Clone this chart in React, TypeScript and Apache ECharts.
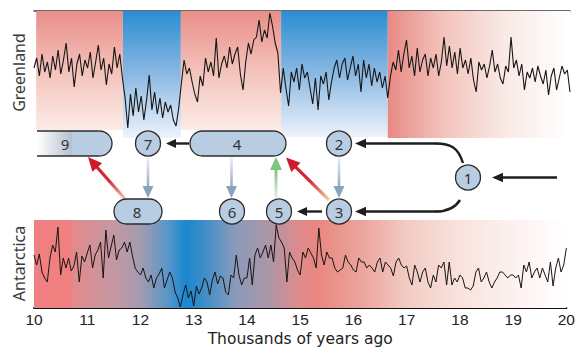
import { useEffect, useRef } from "react";
import * as echarts from "echarts";

// ---- data ----
const ageTicks = [10, 11, 12, 13, 14, 15, 16, 17, 18, 19, 20];
const innerTicks = [11, 12, 13, 14, 15, 16, 17, 18, 19];
const sampleStart = 10.0; // thousands of years ago
const sampleStep = 0.05;

// Greenland record (relative units, higher = warmer)
const greenlandValues = [
  70, 80, 62, 84, 66, 76, 60, 82, 68, 88, 64, 78, 95, 66, 80, 51, 74, 84, 62, 78,
  70, 86, 60, 76, 93, 68, 80, 53, 74, 64, 91, 70, 84, 60,
  40, 10, 44, 22, 50, 26, 42, 18, 38, 63, 28, 46, 24, 40, 20, 36, 26, 33, 18, 12, 30, 55,
  78, 64, 70, 56, 44, 36, 62, 52, 80, 66, 76, 62, 100, 60, 74, 82, 70, 91, 74, 84,
  91, 64, 48, 76, 95, 84, 98, 101, 118, 96, 108, 100, 125, 112, 95, 85, 45,
  70, 50, 32, 66, 56, 70, 48, 74, 60, 66, 50, 34, 60, 28, 62, 54, 66, 38, 56, 70,
  78, 60, 74, 80, 58, 70, 82, 62, 74, 46, 78, 60, 74, 52, 70, 56, 66, 50, 62, 40,
  62, 76, 68, 88, 66, 84, 98, 70, 82, 62, 90, 66, 78, 84, 62, 80, 70, 84, 62, 76,
  101, 72, 92, 70, 86, 64, 90, 70, 78, 64, 80, 58, 46, 76, 68, 74, 60, 72, 88, 66,
  74, 60, 54, 72, 66, 101, 70, 78, 62, 74, 48, 66, 60, 70, 56, 72, 62, 54, 68, 43,
  62, 70, 48, 60, 72, 64, 68, 46,
];

// Antarctica record (relative units, higher = warmer)
const antarcticaValues = [
  53, 43, 54, 36, 30, 26, 50, 63, 56, 81, 33, 50, 40, 50, 37, 42, 56, 26, 52, 46, 55,
  63, 40, 53, 58, 66, 30, 78, 50, 62, 73, 48, 58, 60, 66, 56, 66, 52, 40, 36, 33,
  40, 30, 26, 33, 20, 30, 34, 40, 20, 28, 36, 30, 16, 10, 1, 14, 23, 10, 17, 2,
  22, 14, 20, 30,
  26, 13, 28, 36, 24, 32, 30, 16, 13, 33, 30, 53, 33, 23, 30, 30, 50, 23, 53, 60,
  50, 56, 63, 50, 63, 46, 83, 70, 66, 60, 26, 56, 50, 46, 38, 33, 56, 50, 60, 55,
  50, 40, 80, 53, 43, 56, 50, 50, 40, 36, 38, 40, 53, 46, 43, 38, 36, 50, 46, 46,
  40, 43, 40, 36, 46, 50, 36,
  46, 43, 40, 32, 46, 50, 43, 40, 42, 30, 23, 43, 36, 26, 36, 40, 26, 20, 33, 26,
  43, 40, 46, 23, 46, 23, 30, 26, 33, 30, 20, 20, 18, 22, 36, 40, 26, 30, 36, 26,
  20, 26, 30, 36, 36, 33, 30, 33, 33, 30, 33, 20, 43, 36, 46, 30, 36, 40, 30, 40,
  33, 26, 46, 22, 40, 50, 36, 43, 60,
];

// Greenland climate phases (thousands of years ago)
const phaseFrom = [10.04, 11.66, 12.74, 14.61, 16.6];
const phaseTo = [11.66, 12.74, 14.61, 16.6, 20];
const phaseKind = ["warm", "cold", "warm", "cold", "fade"];
const phaseFloor = [8, 0, 8, 1, 0];

const FONT = "Noto Sans";
const AXIS_FONT = "Liberation Sans";
const NAME_FONT = "DejaVu Sans";

function toSeries(values: number[]) {
  return values.map((v, i) => [+(sampleStart + i * sampleStep).toFixed(2), v]);
}

function arrow(
  x1: number, y1: number, x2: number, y2: number,
  shaft: any, head: string, width: number, len: number, half: number
) {
  const dx = x2 - x1, dy = y2 - y1;
  const L = Math.hypot(dx, dy);
  const ux = dx / L, uy = dy / L;
  const bx = x2 - ux * len, by = y2 - uy * len;
  const nx = -uy, ny = ux;
  return [
    { type: "line", z: 20, shape: { x1, y1, x2: bx + ux, y2: by + uy }, style: { stroke: shaft, lineWidth: width } },
    {
      type: "polygon", z: 21,
      shape: { points: [[x2, y2], [bx + nx * half, by + ny * half], [bx - nx * half, by - ny * half]] },
      style: { fill: head },
    },
  ];
}

const G = (x1: number, y1: number, x2: number, y2: number, stops: [number, string][]) =>
  new echarts.graphic.LinearGradient(x1, y1, x2, y2, stops.map(([offset, color]) => ({ offset, color })), true);

export default function App() {
  const ref = useRef<HTMLDivElement>(null);
  useEffect(() => {
    document.body.style.margin = "0";
    const chart = echarts.init(ref.current!, null, { renderer: "svg" });

    const warm = new echarts.graphic.LinearGradient(0, 0, 0, 1, [
      { offset: 0, color: "#e98e88" },
      { offset: 0.5, color: "#f3c2ba" },
      { offset: 1, color: "#fcebe7" },
    ]);
    const cold = new echarts.graphic.LinearGradient(0, 0, 0, 1, [
      { offset: 0, color: "#2a8dd2" },
      { offset: 0.5, color: "#8bb9e3" },
      { offset: 1, color: "#eef3fb" },
    ]);
    const fade = new echarts.graphic.LinearGradient(0, 0, 1, 0, [
      { offset: 0, color: "#e88984" },
      { offset: 0.3, color: "#f2c3bb" },
      { offset: 0.65, color: "#faeae6" },
      { offset: 1, color: "#ffffff" },
    ]);
    const fills: any = { warm, cold, fade };

    const antBg = new echarts.graphic.LinearGradient(0, 0, 1, 0, [
      { offset: 0, color: "#f17f82" },
      { offset: 0.07, color: "#f0807f" },
      { offset: 0.073, color: "#e28a8c" },
      { offset: 0.15, color: "#c498a2" },
      { offset: 0.2, color: "#a39bb0" },
      { offset: 0.25, color: "#5b96c8" },
      { offset: 0.285, color: "#1a88cf" },
      { offset: 0.32, color: "#3f8dc6" },
      { offset: 0.38, color: "#8c9bb9" },
      { offset: 0.44, color: "#ab96a8" },
      { offset: 0.5, color: "#df8b8b" },
      { offset: 0.53, color: "#e8877f" },
      { offset: 0.62, color: "#eba69e" },
      { offset: 0.7, color: "#f2cbc3" },
      { offset: 0.8, color: "#f9e2dd" },
      { offset: 0.92, color: "#fdf4f2" },
      { offset: 1, color: "#ffffff" },
    ]);

    const nodeFill = "#b9cde2";
    const nodeStroke = "#2b2b2b";
    const circle = (cx: number, cy: number, label: string) => [
      { type: "circle", z: 30, shape: { cx, cy, r: 12.5 }, style: { fill: nodeFill, stroke: nodeStroke, lineWidth: 1.3 } },
      { type: "text", z: 31, x: cx, y: cy + 0.5, style: { text: label, fontSize: 15, fontFamily: FONT, fill: "#333", align: "center", verticalAlign: "middle" } },
    ];
    const pill = (x: number, y: number, w: number, label: string, tx: number) => [
      { type: "rect", z: 30, shape: { x, y, width: w, height: 25, r: 12.5 }, style: { fill: nodeFill, stroke: nodeStroke, lineWidth: 1.3 } },
      { type: "text", z: 31, x: tx, y: y + 13, style: { text: label, fontSize: 15, fontFamily: FONT, fill: "#333", align: "center", verticalAlign: "middle" } },
    ];

    const black = "#1e1e1e";
    const grayShaft = (x: number, y1: number, y2: number) => G(x, y1, x, y2, [[0, "#eceff4"], [1, "#8aa3bd"]]);

    const graphics: any[] = [
      // node 9 (faded pill)
      {
        type: "rect", z: 30, shape: { x: 37, y: 131, width: 75, height: 25, r: [0, 12.5, 12.5, 0] },
        style: { fill: G(37, 0, 112, 0, [[0, "#ffffff"], [0.46, "#b4c1ce"], [0.47, nodeFill], [1, nodeFill]]) },
      },
      { type: "line", z: 31, shape: { x1: 37, y1: 131, x2: 99.5, y2: 131 }, style: { stroke: nodeStroke, lineWidth: 1.3 } },
      { type: "line", z: 31, shape: { x1: 37, y1: 156, x2: 99.5, y2: 156 }, style: { stroke: nodeStroke, lineWidth: 1.3 } },
      { type: "arc", z: 31, shape: { cx: 99.5, cy: 143.5, r: 12.5, startAngle: -Math.PI / 2, endAngle: Math.PI / 2, clockwise: true }, style: { stroke: nodeStroke, lineWidth: 1.3, fill: "none" } },
      { type: "text", z: 31, x: 65, y: 144, style: { text: "9", fontSize: 15, fontFamily: FONT, fill: "#333", align: "center", verticalAlign: "middle" } },
      ...circle(148, 143.5, "7"),
      ...pill(190, 131, 96, "4", 237),
      ...circle(339, 143.5, "2"),
      ...circle(468, 177.5, "1"),
      ...circle(339, 211.5, "3"),
      ...circle(279, 211.5, "5"),
      ...circle(232, 211.5, "6"),
      ...pill(114, 199, 48, "8", 137),
      // black flow arrows
      ...arrow(557, 177.5, 492, 177.5, black, black, 2.4, 11, 4.8),
      { type: "bezierCurve", z: 20, shape: { x1: 463, y1: 163, cpx1: 458, cpy1: 147, cpx2: 450, cpy2: 143.5, x2: 436, y2: 143.5 }, style: { stroke: black, lineWidth: 2.4, fill: "none" } },
      ...arrow(437, 143.5, 355, 143.5, black, black, 2.4, 11, 4.8),
      { type: "bezierCurve", z: 20, shape: { x1: 460, y1: 200, cpx1: 455, cpy1: 208, cpx2: 447, cpy2: 211.5, x2: 436, y2: 211.5 }, style: { stroke: black, lineWidth: 2.4, fill: "none" } },
      ...arrow(437, 211.5, 355, 211.5, black, black, 2.4, 11, 4.8),
      ...arrow(322, 211.5, 297, 211.5, black, black, 2.4, 10, 4.5),
      ...arrow(189, 143.5, 166, 143.5, black, black, 2.4, 10, 4.5),
      // gray arrows
      ...arrow(339, 157, 339, 198, grayShaft(339, 157, 190), "#8aa2bc", 2.6, 12, 5.5),
      ...arrow(148, 158, 148, 198, grayShaft(148, 158, 190), "#8aa2bc", 2.6, 12, 5.5),
      ...arrow(231.5, 157, 231.5, 198, grayShaft(231.5, 157, 190), "#8aa2bc", 2.6, 12, 5.5),
      // green arrow
      ...arrow(276, 199, 276, 157, G(276, 199, 276, 170, [[0, "#eaf3e6"], [1, "#7dc47e"]]), "#7dc47e", 3, 13, 6),
      // red arrows
      ...arrow(329, 200, 286, 157.5, G(329, 200, 286, 157.5, [[0, "#f3d2a8"], [0.45, "#d42a33"], [1, "#d0192b"]]), "#d0192b", 3.2, 14, 6.5),
      ...arrow(126, 200, 88, 157, G(126, 200, 88, 157, [[0, "#f3d2a8"], [0.45, "#d42a33"], [1, "#d0192b"]]), "#d0192b", 3.2, 14, 6.5),
      // panel names
      { type: "text", z: 31, x: 19, y: 72.5, rotation: Math.PI / 2, style: { text: "Greenland", fontSize: 16, fontFamily: FONT, fill: "#3a3a3a", align: "center", verticalAlign: "middle" } },
      { type: "text", z: 31, x: 19, y: 263.5, rotation: Math.PI / 2, style: { text: "Antarctica", fontSize: 16, fontFamily: FONT, fill: "#3a3a3a", align: "center", verticalAlign: "middle" } },
    ];

    const option: any = {
      animation: false,
      grid: [
        { left: 34, right: 8, top: 11, height: 127 },
        { left: 34, right: 8, top: 220, height: 88 },
      ],
      xAxis: [
        {
          type: "value", gridIndex: 0, min: 10, max: 20, interval: 1, position: "top",
          axisLine: { onZero: false, lineStyle: { color: "#3a3a3a", width: 1.5 } },
          axisTick: { inside: true, length: 4, customValues: innerTicks, lineStyle: { color: "#333", width: 1 } },
          axisLabel: { show: false }, splitLine: { show: false },
        },
        {
          type: "value", gridIndex: 1, min: 10, max: 20, interval: 1, position: "bottom",
          axisLine: { onZero: false, lineStyle: { color: "#111", width: 2 } },
          axisTick: { inside: true, length: 3, customValues: innerTicks, lineStyle: { color: "#444", width: 1 } },
          axisLabel: { customValues: ageTicks, fontSize: 15.5, lineHeight: 16, color: "#222", margin: 3, fontFamily: AXIS_FONT },
          splitLine: { show: false },
          name: "Thousands of years ago", nameLocation: "middle", nameGap: 23,
          nameTextStyle: { fontSize: 15.5, lineHeight: 16, color: "#222", fontFamily: NAME_FONT },
        },
      ],
      yAxis: [
        { type: "value", gridIndex: 0, min: 0, max: 127, show: false },
        { type: "value", gridIndex: 1, min: 0, max: 88, show: false },
      ],
      series: [
        {
          type: "line", xAxisIndex: 0, yAxisIndex: 0, data: toSeries(greenlandValues),
          showSymbol: false, symbol: "none", lineStyle: { color: "#161616", width: 1.1 }, z: 3,
          markArea: {
            silent: true, label: { show: false },
            data: phaseFrom.map((f, i) => [
              { xAxis: f, yAxis: 127, itemStyle: { color: fills[phaseKind[i]], opacity: 1 } },
              { xAxis: phaseTo[i], yAxis: phaseFloor[i] },
            ]),
          },
        },
        {
          type: "line", xAxisIndex: 1, yAxisIndex: 1, data: toSeries(antarcticaValues),
          showSymbol: false, symbol: "none", lineStyle: { color: "#161616", width: 1 }, z: 3,
          markArea: {
            silent: true, label: { show: false },
            data: [[{ xAxis: 10, yAxis: 88, itemStyle: { color: antBg, opacity: 1 } }, { xAxis: 20, yAxis: 0 }]],
          },
        },
      ],
      graphic: graphics,
    };
    chart.setOption(option);
    return () => chart.dispose();
  }, []);
  return <div ref={ref} style={{ width: 578, height: 350 }} />;
}
